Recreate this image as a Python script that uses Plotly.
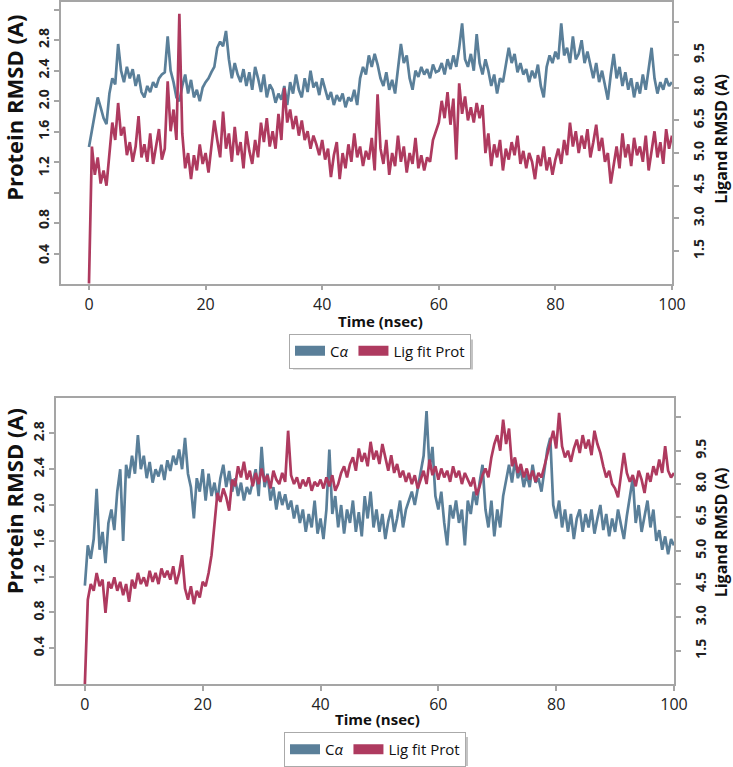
import plotly.graph_objects as go

# ---------------- data ----------------
TIME = [round(i * 0.5, 1) for i in range(201)]  # ns, 0.5 ns frames

TOP_CA = [
    1.40, 1.62, 1.85, 2.05, 1.92, 1.78, 1.70, 2.10, 2.30, 2.22,
    2.75, 2.40, 2.25, 2.45, 2.30, 2.42, 2.20, 2.35, 2.12, 2.05,
    2.20, 2.12, 2.25, 2.18, 2.30, 2.35, 2.38, 2.85, 2.40, 2.25,
    2.05, 2.00, 2.20, 2.35, 2.10, 2.28, 2.05, 2.15, 2.00, 2.18,
    2.25, 2.30, 2.38, 2.45, 2.70, 2.78, 2.72, 2.92, 2.55, 2.30,
    2.50, 2.35, 2.25, 2.42, 2.20, 2.38, 2.15, 2.45, 2.30, 2.12,
    2.35, 2.05, 2.22, 2.15, 1.98, 2.10, 2.02, 2.20, 1.95, 2.25,
    2.10, 2.35, 2.15, 2.05, 2.30, 2.12, 2.40, 2.18, 2.25, 2.08,
    2.30, 2.15, 2.02, 2.12, 1.95, 2.08, 2.00, 2.10, 1.92, 2.05,
    2.00, 2.15, 1.95, 2.30, 2.45, 2.35, 2.60, 2.45, 2.62, 2.48,
    2.30, 2.20, 2.38, 2.15, 2.28, 2.10, 2.45, 2.75, 2.50, 2.60,
    2.30, 2.15, 2.40, 2.32, 2.45, 2.35, 2.42, 2.30, 2.48, 2.38,
    2.40, 2.50, 2.35, 2.55, 2.42, 2.60, 2.45, 2.70, 3.02, 2.55,
    2.45, 2.62, 2.40, 2.88, 2.50, 2.35, 2.55, 2.40, 2.20, 2.35,
    2.10, 2.30, 2.25, 2.45, 2.70, 2.50, 2.62, 2.38, 2.50, 2.35,
    2.42, 2.25, 2.40, 2.30, 2.48, 2.20, 2.05, 2.45, 2.60, 2.50,
    2.65, 2.55, 3.02, 2.60, 2.70, 2.50, 2.85, 2.55, 2.62, 2.80,
    2.50, 2.65, 2.45, 2.30, 2.50, 2.25, 2.40, 2.20, 2.02, 2.35,
    2.62, 2.30, 2.45, 2.20, 2.38, 2.15, 2.30, 2.05, 2.25, 2.10,
    2.35, 2.15, 2.45, 2.70, 2.30, 2.10, 2.25, 2.15, 2.30, 2.20,
    2.25,
]

TOP_LIG = [
    0.0, 6.3, 5.0, 5.8, 4.6, 5.2, 4.5, 6.1, 7.4, 6.6,
    8.3, 6.8, 7.2, 5.9, 6.5, 5.6, 6.3, 7.7, 5.8, 6.4,
    5.6, 6.9, 5.5, 6.3, 7.1, 5.7, 6.2, 9.3, 7.0, 8.0,
    6.6, 12.4, 6.9, 5.3, 6.0, 4.8, 5.9, 5.2, 6.4, 5.5,
    6.0, 5.1, 6.2, 7.5, 6.6, 5.8, 7.9, 6.2, 6.9, 5.6,
    7.2, 5.9, 6.5, 5.3, 7.0, 6.1, 5.5, 6.6, 5.8, 7.4,
    6.5, 7.6, 6.3, 7.0, 6.2, 7.8, 6.6, 9.0, 7.4, 8.0,
    7.1, 7.7, 6.8, 7.5, 6.6, 7.0, 6.2, 6.8, 6.4, 5.9,
    6.6, 5.7, 6.2, 4.9, 5.9, 6.5, 4.8, 6.0, 5.3, 6.4,
    5.6, 6.9, 5.8, 6.3, 5.4, 6.1, 5.7, 6.7, 5.2, 8.7,
    6.2, 5.5, 6.6, 5.0, 6.0, 5.4, 6.8, 5.6, 6.3, 5.1,
    6.0, 5.5, 6.7, 5.3, 5.9, 5.2, 5.8, 5.6, 6.6, 7.0,
    7.4, 8.4, 7.6, 8.8, 7.3, 8.5, 5.7, 9.2, 7.8, 8.6,
    7.5, 8.1, 7.4, 8.3, 7.6, 8.2, 6.0, 6.9, 5.4, 6.4,
    5.8, 6.6, 5.2, 6.2, 5.7, 6.5, 5.9, 6.8, 5.5, 6.1,
    5.3, 6.0, 5.6, 4.8, 5.9, 5.4, 6.3, 5.2, 5.8, 5.0,
    5.7, 6.2, 5.5, 6.6, 5.9, 7.4, 6.3, 7.0, 6.0, 6.8,
    6.2, 7.1, 5.8, 6.5, 7.3, 6.1, 6.7, 5.6, 6.0, 4.6,
    5.5, 6.3, 5.3, 6.9, 5.8, 6.4, 5.4, 6.7, 5.9, 6.3,
    5.6, 6.8, 5.2, 6.1, 7.0, 5.8, 6.5, 5.5, 7.1, 6.2,
    6.8,
]

BOT_CA = [
    1.10, 1.55, 1.40, 1.62, 2.18, 1.50, 1.70, 1.35, 1.80, 1.95,
    1.72, 2.15, 2.40, 1.60, 2.45, 2.30, 2.55, 2.35, 2.78, 2.40,
    2.55, 2.30, 2.48, 2.25, 2.40, 2.32, 2.45, 2.28, 2.50, 2.38,
    2.55, 2.45, 2.62, 2.40, 2.75, 2.35, 2.20, 1.85, 2.30, 2.15,
    2.40, 2.05, 2.35, 2.10, 2.25, 2.05, 2.30, 2.45, 2.20, 2.38,
    2.15, 2.30, 2.10, 2.25, 2.05, 2.20, 2.12, 2.28, 2.40, 2.10,
    2.65, 2.20, 2.35, 2.05, 2.20, 1.95, 2.15, 2.00, 2.12, 1.95,
    2.05, 1.85, 2.00, 1.80, 1.95, 1.70, 1.90, 1.75, 2.05, 1.68,
    1.85, 1.62, 1.95, 2.62, 1.90, 2.10, 1.75, 2.00, 1.68, 1.95,
    1.80, 2.05, 1.70, 1.92, 1.65, 2.10, 1.85, 2.15, 1.75, 1.95,
    1.70, 1.90, 1.62, 1.82, 1.95, 1.70, 1.85, 2.05, 1.75, 1.95,
    2.05, 2.15, 2.00, 2.20, 2.35, 2.55, 3.05, 2.40, 2.65, 2.10,
    1.95, 2.15, 1.80, 1.55, 2.00, 1.85, 2.05, 1.80, 1.95, 1.55,
    2.05, 1.90, 2.15, 2.00, 2.25, 2.45, 1.95, 1.75, 2.05, 1.65,
    1.95, 1.75, 2.10, 2.30, 2.45, 2.25, 2.50, 2.30, 2.40, 2.20,
    2.35, 2.20, 2.45, 2.25, 2.30, 2.15, 2.40, 2.62, 2.75, 2.00,
    1.85, 2.05, 1.75, 1.95, 1.70, 1.90, 1.62, 1.85, 1.95, 1.70,
    1.90, 1.75, 1.95, 1.68, 1.85, 2.00, 1.72, 1.90, 1.65, 1.85,
    1.70, 1.95, 1.78, 1.62, 1.88, 2.10, 2.30, 1.80, 2.00, 1.70,
    1.90, 2.05, 1.75, 1.95, 1.60, 1.72, 1.50, 1.65, 1.45, 1.62,
    1.55,
]

BOT_LIG = [
    0.0, 3.8, 4.5, 4.2, 5.0, 4.4, 4.7, 3.2, 4.6, 4.3,
    4.8, 4.2, 4.6, 4.0, 4.5, 3.7, 4.7, 4.3, 5.0, 4.5,
    4.8, 4.4, 5.1, 4.6, 5.0, 4.5, 5.2, 4.8, 5.1, 4.7,
    5.3, 4.5, 5.0, 5.8, 4.3, 3.8, 4.4, 3.6, 4.2, 3.9,
    4.6, 4.4, 5.0, 5.8, 7.2, 8.6, 8.2, 8.8, 8.4, 7.8,
    9.2, 8.9, 9.8, 9.3, 10.0, 9.2, 9.6, 8.9, 9.5, 9.0,
    9.7, 9.1, 9.4, 8.8, 9.6, 9.2, 9.0, 9.5, 9.1, 11.4,
    9.4, 9.0, 9.3, 8.8, 9.2, 8.9, 9.3, 8.7, 9.1, 8.9,
    9.2, 8.8, 9.3, 8.9, 9.4, 8.7, 9.0, 9.5, 9.8, 9.3,
    9.9, 10.2, 9.6, 10.6, 10.0, 10.4, 9.8, 10.9, 10.1, 10.5,
    9.9, 10.8, 10.2, 9.6, 10.3, 9.5, 9.9, 9.3, 9.6, 9.1,
    9.5, 9.0, 9.4, 8.8, 9.2, 9.6, 9.0, 10.1, 9.4, 9.8,
    9.2, 9.7, 9.3, 9.6, 9.1, 9.8, 9.3, 9.6, 9.0, 9.5,
    9.2, 8.9, 9.3, 8.5, 8.9, 9.4, 9.7, 9.3, 10.2, 10.8,
    11.2, 10.5, 11.9, 10.8, 11.5, 9.8, 10.2, 9.5, 9.9, 9.3,
    9.7, 9.2, 9.6, 9.1, 9.5, 9.3, 9.8, 10.3, 10.8, 11.4,
    10.6, 12.2, 10.7, 10.2, 10.5, 10.0, 10.6, 11.0, 10.4, 11.2,
    10.6, 11.0, 10.3, 11.4, 10.8, 10.4, 9.8, 9.3, 9.6, 9.0,
    8.8, 8.4, 9.4, 10.4, 9.5, 9.1, 9.4, 8.9, 9.6, 9.2,
    8.6, 9.5, 9.1, 9.8, 9.4, 10.1, 9.5, 10.7, 9.6, 9.3,
    9.5,
]

X_TICKS = [0, 20, 40, 60, 80, 100]
LEFT_TICK_TEXT = ["2.8", "2.4", "2.0", "1.6", "1.2", "0.8", "0.4"]
RIGHT_TICK_TEXT = ["1.5", "3.0", "4.5", "5.0", "6.5", "8.0", "9.5", ""]
SERIES_NAMES = ["C<i>α</i>", "Lig fit Prot"]

# ---------------- style ----------------
W, H = 733, 767
BLUE = "#5a7f99"
RED = "#ae3a5f"
AX = "#a5a5a5"
FONT = "Open Sans"


def fx(p):
    return p / W


def fy(p):
    return (H - p) / H


fig = go.Figure()

fig.add_trace(go.Scatter(x=TIME, y=TOP_CA, xaxis="x", yaxis="y", mode="lines",
                         line=dict(color=BLUE, width=2.7), showlegend=False, name="Cα"))
fig.add_trace(go.Scatter(x=TIME, y=TOP_LIG, xaxis="x", yaxis="y2", mode="lines",
                         line=dict(color=RED, width=2.7), showlegend=False, name="Lig fit Prot"))
fig.add_trace(go.Scatter(x=TIME, y=BOT_CA, xaxis="x2", yaxis="y3", mode="lines",
                         line=dict(color=BLUE, width=2.7), showlegend=False, name="Cα"))
fig.add_trace(go.Scatter(x=TIME, y=BOT_LIG, xaxis="x2", yaxis="y4", mode="lines",
                         line=dict(color=RED, width=2.7), showlegend=False, name="Lig fit Prot"))

# legend entries (one legend per panel)
for lg, xa, ya in (("legend", "x", "y"), ("legend2", "x2", "y3")):
    for nm, col in zip(SERIES_NAMES, (BLUE, RED)):
        fig.add_trace(go.Scatter(x=[None], y=[None], xaxis=xa, yaxis=ya, mode="lines",
                                 line=dict(color=col, width=10), name=nm, legend=lg,
                                 showlegend=True, hoverinfo="skip"))

base = dict(showline=True, linecolor=AX, linewidth=1.5, mirror=True, showgrid=False,
            zeroline=False, ticks="outside", ticklen=5, tickcolor=AX, tickwidth=1.5,
            automargin=False)
xfont = dict(family=FONT, size=16, color="#222")
yfont = dict(family=FONT, size=14, color="#222", weight="bold")

top_left_minor = dict(tickmode="array", tickvals=[3.2, 2.8, 2.4, 2.0, 1.6, 1.2, 0.8, 0.4, 0.0],
                      ticks="outside", ticklen=5, tickcolor=AX, tickwidth=1.5, showgrid=False)

legend_common = dict(orientation="h", bgcolor="white", bordercolor="#aaaaaa", borderwidth=1,
                     font=dict(family=FONT, size=15, color="#111"), itemwidth=30)

fig.update_layout(
    width=W, height=H, template="none",
    margin=dict(l=0, r=0, t=0, b=0),
    paper_bgcolor="white", plot_bgcolor="white",
    showlegend=True,
    xaxis=dict(base, domain=[fx(61), fx(672)], anchor="y", range=[-4.8, 100],
               tickmode="array", tickvals=X_TICKS, tickfont=xfont),
    yaxis=dict(base, domain=[fy(284), fy(2)], anchor="x", range=[-0.39, 3.30],
               tickmode="array", tickvals=[2.8, 2.4, 2.0, 1.6, 1.12, 0.43, -0.03],
               ticktext=LEFT_TICK_TEXT, tickangle=-90, tickfont=yfont,
               tickcolor="rgba(0,0,0,0)", minor=top_left_minor),
    yaxis2=dict(base, overlaying="y", side="right", anchor="x", range=[0, 12.94],
                tickmode="array", tickvals=[1.5, 3.0, 4.5, 6.0, 7.5, 9.0, 10.5, 12.0],
                ticktext=RIGHT_TICK_TEXT, tickangle=-90, tickfont=yfont,
                ticklabelstandoff=8),
    xaxis2=dict(base, domain=[fx(56), fx(674)], anchor="y3", range=[-4.9, 100],
                tickmode="array", tickvals=X_TICKS, tickfont=xfont),
    yaxis3=dict(base, domain=[fy(685), fy(399)], anchor="x2", range=[0, 3.19],
                tickmode="array", tickvals=[2.8, 2.4, 2.0, 1.6, 1.2, 0.8, 0.4],
                ticktext=LEFT_TICK_TEXT, tickangle=-90, tickfont=yfont),
    yaxis4=dict(base, overlaying="y3", side="right", anchor="x2", range=[0, 12.85],
                tickmode="array", tickvals=[1.5, 3.0, 4.5, 6.0, 7.5, 9.0, 10.5, 12.0],
                ticktext=RIGHT_TICK_TEXT, tickangle=-90, tickfont=yfont,
                ticklabelstandoff=8),
    legend=dict(legend_common, x=fx(380), y=fy(351), xanchor="center", yanchor="middle"),
    legend2=dict(legend_common, x=fx(375), y=fy(750), xanchor="center", yanchor="middle"),
)

# soft drop-shadows under the two legend boxes
for x0, y0, x1, y1 in ((293, 340, 473, 370), (288, 738, 468, 767)):
    fig.add_shape(type="rect", xref="paper", yref="paper",
                  x0=fx(x0), x1=fx(x1), y0=fy(y1), y1=fy(y0),
                  fillcolor="#c4c4c4", line=dict(width=0), layer="above")

title_font_l = dict(family=FONT, size=22, color="#111", weight="bold")
title_font_r = dict(family=FONT, size=16, color="#111", weight="bold")
title_font_x = dict(family=FONT, size=15, color="#111", weight="bold")

annos = [
    dict(text="Protein RMSD (A)", x=fx(14), y=fy(108), textangle=-90, font=title_font_l),
    dict(text="Ligand RMSD (A)", x=fx(721), y=fy(139), textangle=-90, font=title_font_r),
    dict(text="Time (nsec)", x=fx(380), y=fy(321), font=title_font_x),
    dict(text="Protein RMSD (A)", x=fx(14), y=fy(502), textangle=-90, font=title_font_l),
    dict(text="Ligand RMSD (A)", x=fx(721), y=fy(533), textangle=-90, font=title_font_r),
    dict(text="Time (nsec)", x=fx(377), y=fy(720), font=title_font_x),
]
for a in annos:
    fig.add_annotation(xref="paper", yref="paper", xanchor="center", yanchor="middle",
                       showarrow=False, **a)

# page has a default 8px body margin; remove it so the figure sits at the window origin
fig.write_html("out.html", config={"displayModeBar": False},
               post_script="document.body.style.margin='0px';document.body.style.padding='0px';")
